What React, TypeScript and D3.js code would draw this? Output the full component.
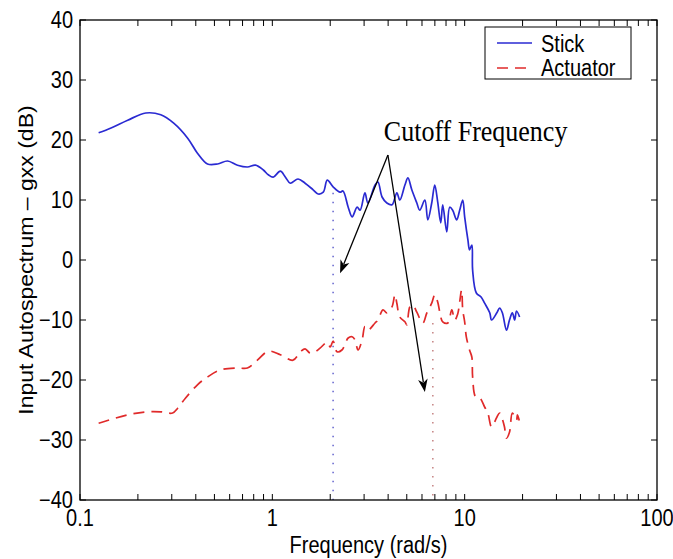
import React from 'react';
import * as d3 from 'd3';

// ---- data ----
const stickFreq = [0.125, 0.145, 0.177, 0.22, 0.263, 0.307, 0.363, 0.408, 0.46, 0.519, 0.585, 0.659, 0.742, 0.817, 0.898, 0.953, 1.01, 1.1, 1.17, 1.24, 1.36, 1.48, 1.63, 1.73, 1.84, 1.93, 2.07, 2.25, 2.33, 2.48, 2.6, 2.76, 2.86, 3.03, 3.14, 3.42, 3.54, 3.72, 3.94, 4.19, 4.44, 4.6, 4.89, 5.07, 5.31, 5.64, 5.84, 6.21, 6.43, 6.74, 6.99, 7.24, 7.51, 7.69, 8.07, 8.36, 8.66, 9.09, 9.42, 9.77, 10.0, 10.4, 10.6, 10.9, 11.0, 11.5, 12.2, 12.7, 13.5, 13.8, 14.7, 15.2, 15.7, 16.5, 17.1, 17.7, 18.2, 18.6, 19.3];
const stickDb = [21.2, 22.0, 23.3, 24.5, 24.2, 22.8, 20.3, 17.8, 16.0, 16.0, 16.5, 15.8, 15.5, 15.8, 15.0, 14.2, 13.8, 14.8, 13.8, 12.8, 13.5, 12.8, 11.7, 11.0, 11.3, 13.3, 12.2, 11.3, 11.5, 8.8, 7.2, 8.8, 8.3, 11.2, 9.5, 12.5, 13.0, 10.5, 9.5, 9.2, 11.2, 10.0, 12.5, 13.7, 11.7, 9.5, 8.3, 10.0, 6.7, 9.5, 12.5, 9.7, 6.2, 9.2, 4.7, 8.8, 8.3, 6.7, 8.3, 10.0, 7.2, 3.3, 1.7, 2.5, -1.7, -5.5, -6.2, -7.2, -8.8, -10.0, -8.8, -8.0, -8.8, -11.7, -10.0, -8.8, -10.0, -8.5, -9.5];

const actFreq = [0.125, 0.177, 0.225, 0.263, 0.303, 0.322, 0.354, 0.408, 0.46, 0.538, 0.659, 0.742, 0.836, 0.953, 1.1, 1.28, 1.4, 1.48, 1.57, 1.67, 1.77, 1.93, 2.0, 2.07, 2.17, 2.3, 2.48, 2.6, 2.69, 2.79, 2.93, 3.03, 3.14, 3.42, 3.54, 3.76, 3.94, 4.19, 4.34, 4.44, 4.6, 4.89, 5.0, 5.19, 5.38, 5.64, 6.06, 6.36, 6.74, 6.99, 7.24, 7.51, 7.69, 8.17, 8.57, 8.88, 9.2, 9.64, 9.77, 10.0, 10.2, 10.6, 10.9, 11.0, 11.4, 12.0, 12.7, 13.2, 13.8, 14.7, 15.2, 15.7, 16.1, 16.5, 17.1, 17.7, 18.6, 18.8, 19.3];
const actDb = [-27.2, -25.8, -25.3, -25.3, -25.5, -24.7, -23.0, -20.8, -19.5, -18.3, -18.0, -18.0, -16.7, -15.2, -15.8, -16.7, -15.3, -14.8, -15.5, -15.3, -14.7, -13.7, -14.5, -13.5, -15.3, -15.0, -13.0, -12.8, -13.3, -15.0, -13.3, -11.1, -11.7, -10.5, -10.0, -8.3, -8.8, -7.8, -5.8, -7.2, -9.5, -10.3, -10.8, -7.8, -7.5, -8.7, -10.5, -8.8, -7.2, -5.8, -7.0, -9.5, -10.3, -10.5, -8.3, -10.0, -9.0, -5.0, -8.3, -10.3, -12.8, -15.0, -16.2, -19.5, -22.8, -23.0, -24.5, -25.5, -27.8, -26.2, -25.5, -26.5, -27.8, -29.7, -28.7, -25.5, -26.7, -25.8, -27.0];

const cutoffFreq = [2.07, 6.83];
const cutoffTopDb = [11.2, -10.5];

const xTickMajor = [0.1, 1, 10, 100];
const xTickLabels = ['0.1', '1', '10', '100'];
const yTickValues = [-40, -30, -20, -10, 0, 10, 20, 30, 40];
const seriesNames = ['Stick', 'Actuator'];

const annotationText = 'Cutoff Frequency';
const annotationAnchor: [number, number] = [3.8, 19.8];
const arrowFrom: [number, number] = [3.99, 17.5];
const arrowTips: [number, number][] = [[2.25, -2.2], [6.21, -22.0]];

// ---- layout ----
const W = 673, H = 559;
const L = 80, R = 657, T = 20, B = 500;
const SY = 1.15;
const SANS = '"Liberation Sans", Arial, Helvetica, sans-serif';
const SERIF = '"Liberation Serif", "Times New Roman", serif';
const BLUE = '#2a2ad2';
const RED = '#e02a2a';

function Txt({ x, y, children, anchor = 'start', size = 20, family = SANS, rotate = false }: any) {
  const tr = `translate(${x},${y}) scale(1,${SY})` + (rotate ? ' rotate(-90)' : '');
  return (
    <text transform={tr} textAnchor={anchor} fontSize={size} fontFamily={family} fill="#000">
      {children}
    </text>
  );
}

function arrowHead(x0: number, y0: number, x1: number, y1: number) {
  const dx = x1 - x0, dy = y1 - y0;
  const len = Math.hypot(dx, dy);
  const ux = dx / len, uy = dy / len;
  const nx = -uy, ny = ux;
  const hl = 13, hw = 4.8;
  const p = [
    [x1, y1],
    [x1 - hl * ux + hw * nx, y1 - hl * uy + hw * ny],
    [x1 - 0.72 * hl * ux, y1 - 0.72 * hl * uy],
    [x1 - hl * ux - hw * nx, y1 - hl * uy - hw * ny],
  ];
  return {
    points: p.map((q) => q.join(',')).join(' '),
    lineEnd: [x1 - 0.75 * hl * ux, y1 - 0.75 * hl * uy],
  };
}

export default function App() {
  const x = d3.scaleLog().domain([0.1, 100]).range([L, R]);
  const y = d3.scaleLinear().domain([-40, 40]).range([B, T]);
  const line = d3
    .line<[number, number]>()
    .x((d) => x(d[0]))
    .y((d) => y(d[1]))
    .curve(d3.curveCatmullRom.alpha(0.5));

  const stick = stickFreq.map((f, i) => [f, stickDb[i]] as [number, number]);
  const act = actFreq.map((f, i) => [f, actDb[i]] as [number, number]);
  const allXTicks = x.ticks();
  const tickLen = 6;

  const [vx, vy] = [x(arrowFrom[0]), y(arrowFrom[1])];

  return (
    <svg width={W} height={H} style={{ position: 'absolute', left: 0, top: 0, background: '#fff' }}>
      <rect x={0} y={0} width={W} height={H} fill="#fff" />
      {/* cutoff dotted lines */}
      {cutoffFreq.map((f, i) => (
        <line
          key={'c' + i}
          x1={x(f)}
          x2={x(f)}
          y1={y(cutoffTopDb[i])}
          y2={B}
          stroke={i === 0 ? '#6c6cd0' : '#c98a8a'}
          strokeWidth={1.6}
          strokeDasharray="1.4,7.6"
        />
      ))}
      {/* series */}
      <path d={line(stick) || ''} fill="none" stroke={BLUE} strokeWidth={1.7} strokeLinejoin="round" />
      <path d={line(act) || ''} fill="none" stroke={RED} strokeWidth={1.7} strokeDasharray="11,7" />

      {/* axes box */}
      <rect x={L} y={T} width={R - L} height={B - T} fill="none" stroke="#000" strokeWidth={1.3} />
      {allXTicks.map((t, i) => (
        <g key={'xt' + i}>
          <line x1={x(t)} x2={x(t)} y1={B} y2={B - tickLen} stroke="#000" strokeWidth={1} />
          <line x1={x(t)} x2={x(t)} y1={T} y2={T + tickLen} stroke="#000" strokeWidth={1} />
        </g>
      ))}
      {yTickValues.map((v, i) => (
        <g key={'yt' + i}>
          <line x1={L} x2={L + tickLen} y1={y(v)} y2={y(v)} stroke="#000" strokeWidth={1} />
          <line x1={R} x2={R - tickLen} y1={y(v)} y2={y(v)} stroke="#000" strokeWidth={1} />
          <Txt x={L - 7} y={y(v) + 8.2} anchor="end">
            {v < 0 ? '\u2212' + Math.abs(v) : String(v)}
          </Txt>
        </g>
      ))}
      {xTickMajor.map((t, i) => (
        <Txt key={'xl' + i} x={x(t)} y={526} anchor="middle">
          {xTickLabels[i]}
        </Txt>
      ))}
      <Txt x={(L + R) / 2} y={553} anchor="middle">
        Frequency (rad/s)
      </Txt>
      <Txt x={33} y={(T + B) / 2} anchor="middle" rotate>
        Input Autospectrum – gxx (dB)
      </Txt>

      {/* legend */}
      <rect x={485} y={27} width={146} height={52} fill="#fff" stroke="#000" strokeWidth={1} />
      <line x1={497} x2={532} y1={43} y2={43} stroke={BLUE} strokeWidth={1.7} />
      <line x1={497} x2={532} y1={68} y2={68} stroke={RED} strokeWidth={1.7} strokeDasharray="11,7" />
      <Txt x={541} y={52}>{seriesNames[0]}</Txt>
      <Txt x={541} y={76}>{seriesNames[1]}</Txt>

      {/* annotation */}
      <Txt x={x(annotationAnchor[0])} y={y(annotationAnchor[1])} size={26} family={SERIF}>
        {annotationText}
      </Txt>
      {arrowTips.map((tip, i) => {
        const tx = x(tip[0]), ty = y(tip[1]);
        const h = arrowHead(vx, vy, tx, ty);
        return (
          <g key={'ar' + i}>
            <line x1={vx} y1={vy} x2={h.lineEnd[0]} y2={h.lineEnd[1]} stroke="#000" strokeWidth={1.3} />
            <polygon points={h.points} fill="#000" />
          </g>
        );
      })}
    </svg>
  );
}
